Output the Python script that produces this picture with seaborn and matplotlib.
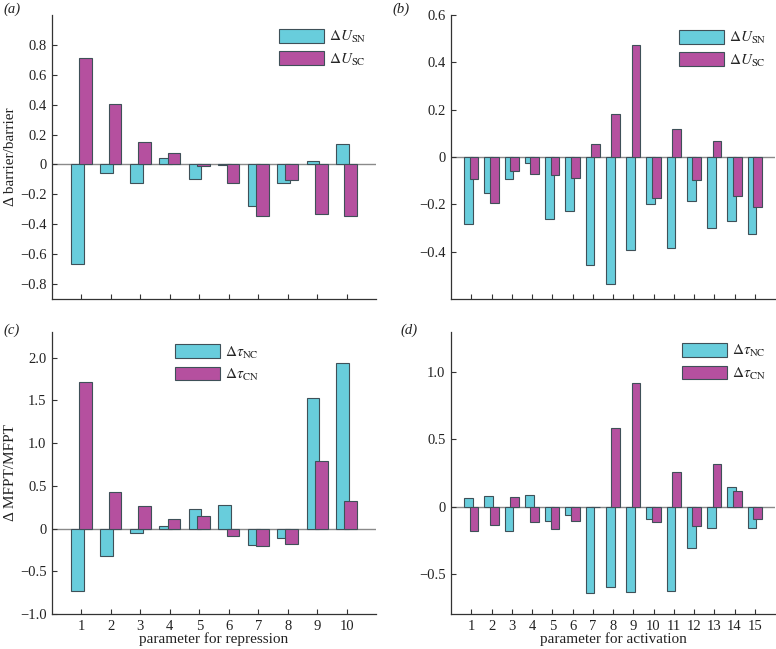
import numpy as np
import matplotlib
matplotlib.use("Agg")
import matplotlib.pyplot as plt
import seaborn as sns
from matplotlib.patches import Patch
from matplotlib.ticker import FuncFormatter

# Data
rep_params = np.arange(1, 11)
act_params = np.arange(1, 16)

# (a) barrier change, repression parameters
dU_SN_rep = [-0.663, -0.056, -0.123, 0.043, -0.100, -0.004, -0.275, -0.125, 0.025, 0.139]
dU_SC_rep = [0.714, 0.405, 0.148, 0.078, -0.013, -0.121, -0.347, -0.103, -0.329, -0.343]

# (b) barrier change, activation parameters
dU_SN_act = [-0.281, -0.153, -0.094, -0.024, -0.261, -0.228, -0.458, -0.536,
             -0.391, -0.199, -0.383, -0.184, -0.301, -0.270, -0.326]
dU_SC_act = [-0.091, -0.193, -0.058, -0.070, -0.075, -0.087, 0.057, 0.183,
             0.475, -0.173, 0.118, -0.098, 0.068, -0.166, -0.213]

# (c) MFPT change, repression parameters
dtau_NC_rep = [-0.734, -0.326, -0.050, 0.027, 0.233, 0.280, -0.194, -0.109, 1.526, 1.934]
dtau_CN_rep = [1.713, 0.423, 0.260, 0.113, 0.148, -0.089, -0.202, -0.179, 0.796, 0.322]

# (d) MFPT change, activation parameters
dtau_NC_act = [0.067, 0.079, -0.183, 0.084, -0.109, -0.064, -0.647, -0.598,
               -0.638, -0.091, -0.630, -0.311, -0.163, 0.143, -0.163]
dtau_CN_act = [-0.183, -0.136, 0.069, -0.116, -0.170, -0.106, 0.0, 0.583,
               0.922, -0.116, 0.257, -0.146, 0.316, 0.119, -0.094]

labels_U = [r"$\Delta U_{\rm SN}$", r"$\Delta U_{\rm SC}$"]
labels_tau = [r"$\Delta \tau_{\rm NC}$", r"$\Delta \tau_{\rm CN}$"]

CYAN = "#68CDDC"
MAGENTA = "#B5509F"
EDGE = "#3f5058"

sns.set_theme(style="ticks")
plt.rcParams["font.family"] = ["Liberation Serif", "DejaVu Serif"]
plt.rcParams["mathtext.fontset"] = "stix"
plt.rcParams["axes.unicode_minus"] = True

W, H = 776, 649
fig = plt.figure(figsize=(W / 100, H / 100), dpi=100)


def px_axes(left, top, width, height):
    return fig.add_axes([left / W, 1 - (top + height) / H, width / W, height / H])


def fmt(v, pos):
    if abs(v) < 1e-9:
        return "0"
    return f"{v:.1f}".replace("-", "\u2212")


def draw_panel(ax, params, s1, s2, labels, xlim, ylim, yticks, legend_xy,
               xlabel=None, ylabel=None, show_xlabels=False):
    ax.axhline(0, color="#8a8a8a", lw=1.0, zorder=0.5)
    sns.barplot(x=params - 0.14, y=s1, native_scale=True, width=0.43,
                color=CYAN, saturation=1, edgecolor=EDGE, linewidth=0.8,
                errorbar=None, ax=ax)
    sns.barplot(x=params + 0.14, y=s2, native_scale=True, width=0.43,
                color=MAGENTA, saturation=1, edgecolor=EDGE, linewidth=0.8,
                errorbar=None, ax=ax)
    ax.set_xlim(*xlim)
    ax.set_ylim(*ylim)
    ax.set_xticks(params)
    ax.set_yticks(yticks)
    ax.yaxis.set_major_formatter(FuncFormatter(fmt))
    if show_xlabels:
        ax.set_xticklabels([str(p) for p in params])
    else:
        ax.tick_params(labelbottom=False)
    for side in ["top", "right"]:
        ax.spines[side].set_visible(False)
    for side in ["left", "bottom"]:
        ax.spines[side].set_color("#333333")
        ax.spines[side].set_linewidth(0.9)
    ax.tick_params(direction="in", length=3.5, width=0.8, color="#333333",
                   labelsize=10.5, pad=4, labelcolor="#222222")
    ax.set_xlabel(xlabel if xlabel else "", fontsize=11, labelpad=0, color="#222222")
    ax.set_ylabel(ylabel if ylabel else "", fontsize=11, labelpad=2, color="#222222")
    handles = [Patch(facecolor=CYAN, edgecolor=EDGE, linewidth=0.8),
               Patch(facecolor=MAGENTA, edgecolor=EDGE, linewidth=0.8)]
    ax.legend(handles=handles, labels=labels, loc="upper left",
              bbox_to_anchor=legend_xy, frameon=False, fontsize=11,
              borderpad=0, borderaxespad=0, handlelength=2.95,
              handleheight=1.0, handletextpad=0.3, labelspacing=0.4)


ax_a = px_axes(52, 15, 324, 284)
ax_b = px_axes(451, 15, 324, 284)
ax_c = px_axes(52, 332, 324, 282)
ax_d = px_axes(451, 332, 324, 282)

draw_panel(ax_a, rep_params, dU_SN_rep, dU_SC_rep, labels_U, (0, 11), (-0.9, 1.0),
           np.round(np.arange(-0.8, 0.81, 0.2), 1), (0.7015, 0.95),
           ylabel="\u0394 barrier/barrier")
draw_panel(ax_b, act_params, dU_SN_act, dU_SC_act, labels_U, (0, 16), (-0.6, 0.6),
           np.round(np.arange(-0.4, 0.61, 0.2), 1), (0.7037, 0.947))
draw_panel(ax_c, rep_params, dtau_NC_rep, dtau_CN_rep, labels_tau, (0, 11), (-1.0, 2.3),
           np.arange(-1.0, 2.01, 0.5), (0.3796, 0.956),
           xlabel="parameter for repression", ylabel="\u0394 MFPT/MFPT",
           show_xlabels=True)
draw_panel(ax_d, act_params, dtau_NC_act, dtau_CN_act, labels_tau, (0, 16), (-0.8, 1.3),
           np.arange(-0.5, 1.01, 0.5), (0.713, 0.96),
           xlabel="parameter for activation", show_xlabels=True)

for lab, x, y in [("(a)", 3, 3), ("(b)", 392, 3), ("(c)", 3, 324), ("(d)", 400, 324)]:
    fig.text(x / W, 1 - y / H, lab, style="italic", fontsize=10.5,
             va="top", ha="left", color="#222222")

fig.savefig("out.png", dpi=100)
